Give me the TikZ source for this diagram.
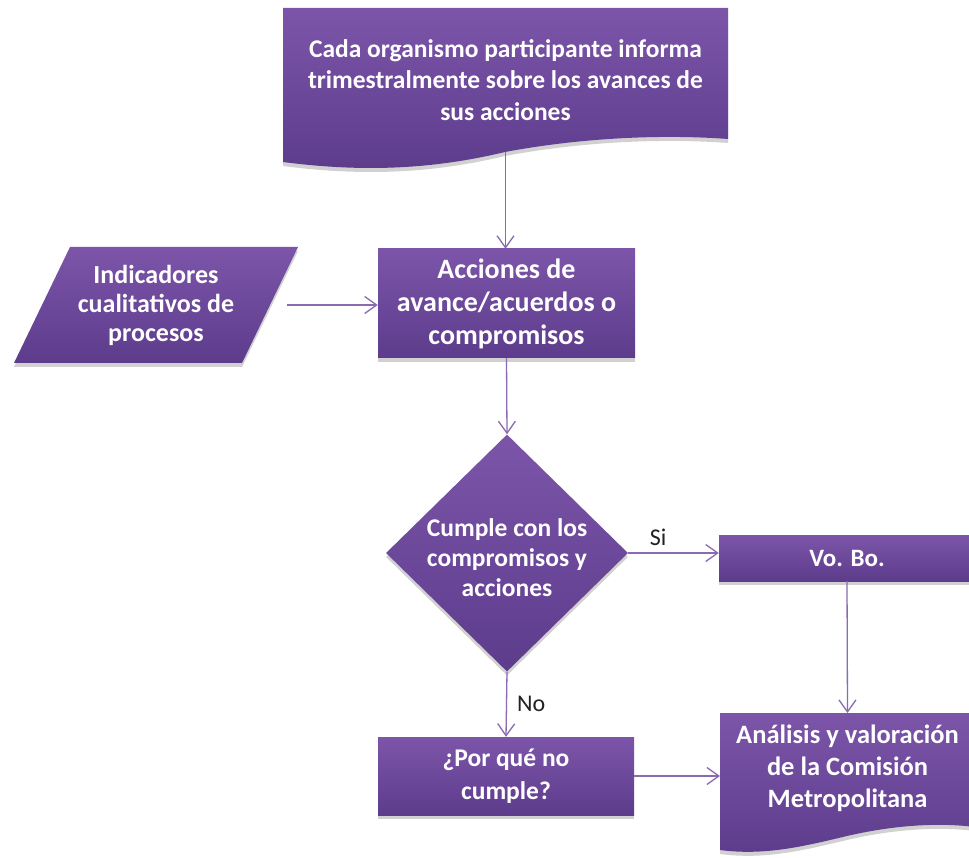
\documentclass[tikz,border=0pt]{standalone}
\usepackage{fontspec}
\setmainfont{Carlito}
\usetikzlibrary{shapes.geometric,arrows.meta,shadows}
\definecolor{pTop}{HTML}{7C55A9}
\definecolor{pBot}{HTML}{5D3C8C}
\definecolor{lineC}{HTML}{8A6BB2}
\definecolor{lblC}{HTML}{222222}
\tikzset{
  shp/.style={top color=pTop, bottom color=pBot, draw=none,
    drop shadow={shadow xshift=0pt, shadow yshift=-4pt, opacity=0.18, fill=black}},
  anch/.style={rectangle, draw=none, inner sep=0pt, align=center, text=white},
  lbl/.style={text=white, align=center},
  fs/.style={font=\bfseries\fontsize{#1}{1.2*#1}\selectfont},
  conn/.style={draw=lineC, line width=1.3pt, -{Straight Barb[length=12pt,width=17pt]}},
  yn/.style={text=lblC, font=\fontsize{24}{28}\selectfont, inner sep=0pt}
}
\begin{document}
\begin{tikzpicture}[x=1pt,y=-1pt]
\useasboundingbox (0,0) rectangle (969,858);
\fill[white] (0,0) rectangle (969,858);

% top document shape
\path[shp] (283,8) -- (728,8) -- (728,139)
  .. controls (660,134) and (580,138) .. (505,152)
  .. controls (430,170) and (360,172) .. (283,162) -- cycle;
\node[anch, minimum width=445pt, minimum height=144pt,
  font=\bfseries\fontsize{25.5}{31.5}\selectfont] (top) at (505.5,80)
  {Cada organismo participante informa\\trimestralmente sobre los avances de\\sus acciones};

% parallelogram
\path[shp] (70,247) -- (298,247) -- (242,363) -- (14,363) -- cycle;
\node[anch, minimum width=262pt, minimum height=116pt,
  font=\bfseries\fontsize{26}{29}\selectfont] (ind) at (156,305)
  {Indicadores\\cualitativos de\\procesos};

% acciones box
\node[anch, shp, minimum width=257pt, minimum height=109pt,
  font=\bfseries\fontsize{28}{33}\selectfont] (acc) at (506.5,303.5)
  {Acciones de\\avance/acuerdos o\\compromisos};

% diamond
\node[diamond, shp, inner sep=0pt, minimum width=242pt, minimum height=237pt,
  label={[lbl, yshift=-5pt, font=\bfseries\fontsize{25.5}{30}\selectfont]center:{Cumple con los\\compromisos y\\acciones}}]
  (dia) at (507,553) {};

% Vo. Bo.
\node[anch, shp, minimum width=256pt, minimum height=46pt,
  font=\bfseries\fontsize{25}{30}\selectfont] (vobo) at (847,558) {Vo. Bo.};

% Por que no cumple
\node[anch, shp, minimum width=256pt, minimum height=78pt,
  font=\bfseries\fontsize{25.5}{33}\selectfont] (porq) at (506,776) {¿Por qué no\\cumple?};

% Analisis document shape
\path[shp] (720,713) -- (975,713) -- (975,827)
  .. controls (935,822) and (890,826) .. (847,836)
  .. controls (805,846) and (765,856) .. (720,850) -- cycle;
\node[anch, minimum width=255pt, minimum height=110pt,
  font=\bfseries\fontsize{26.5}{32}\selectfont] (ana) at (847.5,768)
  {Análisis y valoración\\de la Comisión\\Metropolitana};
\coordinate (anatop) at (847.5,713);
\coordinate (anaw) at (720,778);

% connectors
\draw[conn] (top.south) -- (top.south |- acc.north);
\draw[conn] (ind.east) -- (ind.east -| acc.west);
\draw[conn] (acc.south) -- (dia.north);
\draw[conn] (dia.east) -- (dia.east -| vobo.west) node[yn, pos=0.33, above=7pt] {Si};
\draw[conn] (dia.south) -- (porq.north) node[yn, midway, right=10pt] {No};
\draw[conn] (vobo.south) -- (anatop);
\draw[conn] (porq.east) -- (porq.east -| anaw);
\end{tikzpicture}
\end{document}
